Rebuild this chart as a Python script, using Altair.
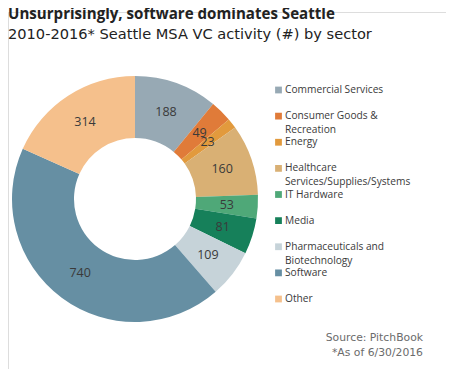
import altair as alt
import pandas as pd

sectors = ["Commercial Services", "Consumer Goods & Recreation", "Energy",
           "Healthcare Services/Supplies/Systems", "IT Hardware", "Media",
           "Pharmaceuticals and Biotechnology", "Software", "Other"]
line1 = ["Commercial Services", "Consumer Goods &", "Energy", "Healthcare",
         "IT Hardware", "Media", "Pharmaceuticals and", "Software", "Other"]
line2 = ["", "Recreation", "", "Services/Supplies/Systems", "", "",
         "Biotechnology", "", ""]
counts = [188, 49, 23, 160, 53, 81, 109, 740, 314]
colors = ["#97a9b4", "#e07b39", "#e29a3d", "#d9b074", "#4fa878", "#16805a",
          "#c6d3d9", "#668fa3", "#f5c08c"]

df = pd.DataFrame({"sector": sectors, "count": counts,
                   "order": list(range(len(sectors))),
                   "line1": line1, "line2": line2})

OX, OY = 8, 12
cx, cy = 135 - OX, 199 - OY
R, R2 = 123, 61
FONT = "Open Sans"

color = alt.Color("sector:N", scale=alt.Scale(domain=sectors, range=colors), legend=None)
base = alt.Chart(df)

arcs = base.mark_arc(radius=R, radius2=R2, stroke=None).encode(
    theta=alt.Theta("count:Q", stack=True),
    order=alt.Order("order:Q"),
    color=color,
    x=alt.value(cx), y=alt.value(cy),
)
labels = base.mark_text(radius=(R + R2) / 2, font=FONT, fontSize=12.5,
                        color="#3a3a3a").encode(
    theta=alt.Theta("count:Q", stack=True),
    order=alt.Order("order:Q"),
    text=alt.Text("count:Q"),
    x=alt.value(cx), y=alt.value(cy),
)

yscale = alt.Scale(domain=[0, 8], range=[90 - OY, 299 - OY])
squares = base.mark_square(size=46, opacity=1).encode(
    x=alt.value(278.5 - OX),
    y=alt.Y("order:Q", scale=yscale, axis=None),
    color=color,
)
leg1 = base.mark_text(align="left", baseline="middle", font=FONT, fontSize=10.2,
                      color="#3a3a3a").encode(
    x=alt.value(285 - OX),
    y=alt.Y("order:Q", scale=yscale, axis=None),
    text="line1:N",
)
leg2 = base.mark_text(align="left", baseline="middle", font=FONT, fontSize=10.2,
                      color="#3a3a3a", dy=14).encode(
    x=alt.value(285 - OX),
    y=alt.Y("order:Q", scale=yscale, axis=None),
    text="line2:N",
)

one = alt.Chart(pd.DataFrame({"a": [0]}))
title = one.mark_text(align="left", baseline="alphabetic", font=FONT, fontSize=15.1,
                      fontWeight="bold", color="#222222").encode(
    x=alt.value(8 - OX), y=alt.value(19 - OY),
    text=alt.value("Unsurprisingly, software dominates Seattle"))
subtitle = one.mark_text(align="left", baseline="alphabetic", font="DejaVu Sans", fontSize=14.6,
                         color="#222222").encode(
    x=alt.value(8 - OX), y=alt.value(38.5 - OY),
    text=alt.value("2010-2016* Seattle MSA VC activity (#) by sector"))
src1 = one.mark_text(align="right", baseline="alphabetic", font="DejaVu Sans", fontSize=10.8,
                     color="#6b6b6b").encode(
    x=alt.value(423 - OX), y=alt.value(341 - OY),
    text=alt.value("Source: PitchBook"))
src2 = one.mark_text(align="right", baseline="alphabetic", font="DejaVu Sans", fontSize=10.8,
                     color="#6b6b6b").encode(
    x=alt.value(423 - OX), y=alt.value(356 - OY),
    text=alt.value("*As of 6/30/2016"))

chart = alt.layer(arcs, labels, squares, leg1, leg2, title, subtitle, src1, src2).properties(
    width=438, height=357, padding={"left": 0, "top": 4, "right": 0, "bottom": 0},
    autosize=alt.AutoSizeParams(type="none")
).configure_view(stroke=None).configure(background="white")

chart.save("out.html", embed_options={"renderer": "svg", "actions": False})
